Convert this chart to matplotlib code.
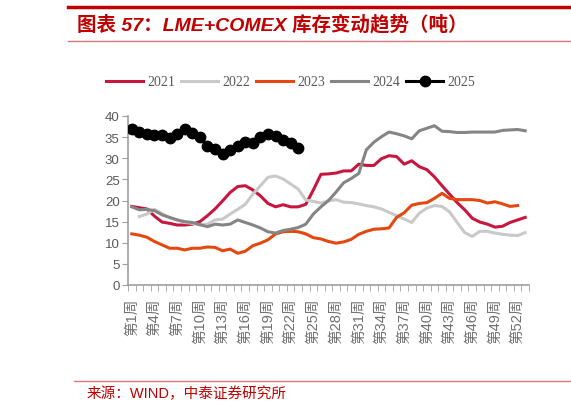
import numpy as np
import matplotlib
matplotlib.use("Agg")
import matplotlib.pyplot as plt
from matplotlib.lines import Line2D

plt.rcParams['font.family'] = ['Liberation Sans', 'Noto Sans CJK SC', 'DejaVu Sans']

weeks = [f"第{i}周" for i in range(1, 54)]
nan = np.nan

y2021 = [18.6, 18.3, 18.0, 16.3, 14.9, 14.6, 14.2, 14.2, 14.4, 15.0,
         16.4, 18.0, 19.9, 21.9, 23.3, 23.5, 22.5, 21.1, 19.3, 18.5,
         19.0, 18.5, 18.5, 19.1, 22.5, 26.2, 26.3, 26.5, 27.0, 27.0,
         28.6, 28.3, 28.3, 29.9, 30.6, 30.4, 28.6, 29.4, 28.0, 27.3,
         25.6, 23.5, 21.5, 19.5, 17.8, 15.8, 14.9, 14.4, 13.7, 13.9,
         14.8, 15.4, 16.0]
y2022 = [nan, 16.2, 16.8, 17.9, 16.9, 15.9, 15.4, 14.8, 14.6, 14.2,
         14.4, 15.4, 15.6, 16.8, 17.9, 19.1, 21.5, 23.5, 25.5, 25.8,
         25.1, 23.9, 22.7, 20.1, 19.8, 19.4, 19.9, 20.2, 19.6, 19.5,
         19.2, 18.8, 18.5, 18.0, 17.2, 16.4, 15.6, 14.8, 17.0, 18.2,
         18.8, 18.6, 17.3, 14.8, 12.4, 11.5, 12.7, 12.7, 12.3, 12.0,
         11.8, 11.7, 12.4]
y2023 = [12.1, 11.8, 11.3, 10.3, 9.5, 8.7, 8.7, 8.3, 8.7, 8.7,
         9.0, 8.9, 8.1, 8.5, 7.5, 8.0, 9.3, 9.9, 10.7, 12.1,
         12.6, 12.7, 12.6, 12.1, 11.2, 10.9, 10.3, 9.9, 10.2, 10.8,
         12.0, 12.7, 13.2, 13.3, 13.5, 16.0, 17.1, 18.9, 19.3, 19.5,
         20.5, 21.7, 20.5, 20.2, 20.2, 20.2, 20.0, 19.4, 19.7, 19.2,
         18.6, 18.8, nan]
y2024 = [18.5, 17.8, 17.9, 17.6, 16.6, 16.0, 15.4, 15.0, 14.8, 14.3,
         13.8, 14.4, 14.2, 14.4, 15.4, 14.8, 14.2, 13.5, 12.6, 12.3,
         12.9, 13.2, 13.6, 14.4, 16.8, 18.5, 20.0, 22.0, 24.2, 25.2,
         26.4, 32.0, 33.8, 35.1, 36.2, 35.8, 35.3, 34.6, 36.5, 37.1,
         37.7, 36.4, 36.3, 36.1, 36.1, 36.2, 36.2, 36.2, 36.2, 36.6,
         36.7, 36.8, 36.5]
y2025 = [36.9, 36.1, 35.7, 35.5, 35.5, 34.7, 35.7, 36.9, 35.9, 35.1,
         32.9, 32.2, 31.0, 31.9, 32.9, 33.9, 33.5, 35.1, 35.7, 35.3,
         34.3, 33.5, 32.4]

series = [("2021", y2021, '#C8173F'), ("2022", y2022, '#C9C9C9'),
          ("2023", y2023, '#E5480F'), ("2024", y2024, '#858585')]

W, H = 571, 414
fig = plt.figure(figsize=(W/100, H/100), dpi=100)
ax = fig.add_axes([128/W, 1-286/H, (529-128)/W, (286-117)/H])

x = np.arange(len(weeks))
for name, vals, col in series:
    ax.plot(x[:len(vals)], vals, color=col, lw=2.2, label=name, solid_joinstyle='round')
ax.plot(x[:len(y2025)], y2025, color='black', lw=2.2, marker='o', markersize=7.5,
        label="2025", zorder=5)

ax.set_xlim(-0.5, len(weeks)-0.5)
ax.set_ylim(0, 40)
ax.set_yticks(np.arange(0, 41, 5))
axcol = '#A0A0A0'
for s in ['top', 'right']:
    ax.spines[s].set_visible(False)
for s in ['left', 'bottom']:
    ax.spines[s].set_color(axcol)
    ax.spines[s].set_linewidth(1.2)
ax.tick_params(axis='y', direction='out', length=4, color=axcol, labelsize=9.5,
               labelcolor='#595959', pad=2)
lab_idx = list(range(0, len(weeks), 3))
ax.set_xticks(lab_idx)
ax.set_xticklabels([weeks[i] for i in lab_idx], rotation=90, fontsize=10.5,
                   color='#707070')
ax.set_xticks(np.arange(-0.5, len(weeks), 1), minor=True)
ax.tick_params(axis='x', which='major', length=0, pad=9)
ax.tick_params(axis='x', which='minor', direction='out', length=4, color=axcol)

handles = [Line2D([], [], color=c, lw=2.2) for _, _, c in series]
handles.append(Line2D([], [], color='black', lw=2.2, marker='o', markersize=7.5))
leg = fig.legend(handles, ["2021", "2022", "2023", "2024", "2025"], loc='center',
                 bbox_to_anchor=(290.5/W, 1-83/H), ncol=5, frameon=False,
                 handlelength=2.7, handletextpad=0.3, columnspacing=0.4,
                 prop={'family': 'Liberation Serif', 'size': 10})
for t in leg.get_texts():
    t.set_color('#595959')

red = '#C00000'
fig.add_artist(Line2D([68/W, 1], [1-8/H, 1-8/H], color=red, lw=2.5))
fig.add_artist(Line2D([68/W, 1], [1-42/H, 1-42/H], color='#E07A7A', lw=1))
fig.text(77/W, 1-25/H, "图表 57：LME+COMEX 库存变动趋势（吨）", color=red,
         fontsize=14, fontweight='bold', fontstyle='italic', va='center', ha='left')
fig.add_artist(Line2D([74/W, 1], [1-382/H, 1-382/H], color='#E07A7A', lw=1))
fig.text(87/W, 1-394/H, "来源：WIND，中泰证券研究所", color=red, fontsize=10.5,
         va='center', ha='left')

fig.savefig("out.png", dpi=100)
